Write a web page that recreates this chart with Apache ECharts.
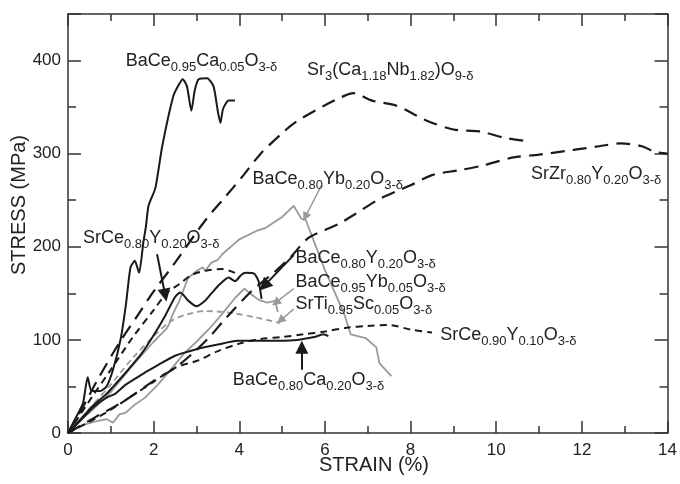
<!DOCTYPE html>
<html>
<head>
<meta charset="utf-8">
<script src="https://cdn.jsdelivr.net/npm/echarts@6/dist/echarts.min.js"></script>
<style>
  html, body { margin: 0; padding: 0; background: #fff; }
  #chart { width: 680px; height: 484px; }
</style>
</head>
<body>
<div id="chart"></div>
<script>
// strain (%) / stress (MPa) pairs
var baCe95Ca05 = [[0,0],[0.2,18],[0.35,32],[0.46,60],[0.55,45],[0.75,45],[0.9,50],[1.05,68],[1.23,101],[1.35,137],[1.46,178],[1.56,185],[1.66,172],[1.76,205],[1.82,222],[1.88,244],[2.04,263],[2.2,308],[2.46,362],[2.6,375],[2.68,380],[2.78,372],[2.88,346],[2.96,368],[3.05,380],[3.25,381],[3.4,372],[3.5,345],[3.56,333],[3.62,348],[3.75,357],[3.9,357]];
var sr3CaNb = [[0,0],[0.35,28],[0.7,58],[1.2,97],[1.65,128],[2.0,152],[2.5,183],[3.2,228],[3.7,255],[4.1,277],[4.5,300],[5.0,322],[5.35,335],[6.0,352],[6.4,361],[6.66,365],[7.1,357],[7.7,351],[8.35,336],[9.0,326],[9.6,324],[10.2,317],[10.8,313]];
var srZr80Y20 = [[0,0],[0.6,16],[1.3,34],[2.0,56],[2.5,70],[2.9,85],[3.3,103],[3.7,124],[4.3,153],[4.8,172],[5.2,189],[5.6,209],[6.0,218],[6.3,224],[6.7,235],[7.3,252],[8.0,266],[8.5,277],[9.1,282],[9.66,287],[10.4,296],[11.0,299],[11.8,304],[12.4,308],[12.9,311],[13.4,308],[13.7,302],[14,300]];
var srCe80Y20 = [[0,0],[0.58,40],[1.0,68],[1.5,102],[2.0,132],[2.3,150],[2.6,160],[2.9,170],[3.3,175],[3.6,176],[3.9,172]];
var baCe80Y20 = [[0,0],[0.3,15],[0.6,30],[0.9,42],[1.04,49],[1.35,65],[1.73,86],[2.04,108],[2.27,126],[2.5,146],[2.62,151],[2.72,147],[2.81,142],[3.0,136],[3.2,142],[3.35,150],[3.55,160],[3.75,167],[3.9,163],[4.05,170],[4.15,172],[4.35,171],[4.45,163],[4.52,144]];
var baCe80Yb20 = [[0,0],[0.3,14],[0.6,26],[1.0,44],[1.5,72],[2.0,98],[2.3,112],[2.35,116],[2.45,128],[2.6,142],[2.8,166],[3.0,174],[3.15,178],[3.2,174],[3.35,183],[3.5,186],[3.6,192],[4.0,208],[4.4,217],[4.6,220],[5.0,232],[5.27,244],[5.45,230],[5.55,229],[6.0,175],[6.45,128],[6.6,106],[6.95,102],[7.2,92],[7.27,75],[7.55,61]];
var baCe95Yb05 = [[0,0],[0.3,8],[0.6,12],[0.9,15],[1.05,11],[1.2,20],[1.35,22],[1.55,30],[1.8,38],[2.1,52],[2.4,68],[2.7,85],[3.0,98],[3.3,112],[3.6,128],[3.9,145],[4.12,155],[4.25,150],[4.45,143],[4.65,140],[4.84,142],[4.9,130]];
var srTi95Sc05 = [[0,0],[0.5,26],[1.0,52],[1.5,80],[2.0,104],[2.4,120],[2.75,127],[3.2,131],[3.8,129],[4.4,124],[4.95,118]];
var srCe90Y10 = [[0,0],[0.5,12],[1.0,25],[1.5,40],[2.0,55],[2.5,70],[3.04,78],[3.5,88],[4.0,96],[4.5,101],[5.0,103],[5.5,106],[6.0,109],[6.5,113],[7.0,115],[7.5,116],[8.0,111],[8.5,108]];
var baCe80Ca20 = [[0,0],[0.3,14],[0.6,28],[0.9,38],[1.1,42],[1.35,52],[1.8,65],[2.1,73],[2.5,83],[3.0,90],[3.5,95],[3.96,99],[4.6,99],[5.35,100],[5.75,103],[5.96,106],[6.08,104]];

// composition labels (rich text: {s|...} = subscript) and where they sit
var labelTexts = [
  'BaCe{s|0.95}Ca{s|0.05}O{s|3-δ}',
  'Sr{s|3}(Ca{s|1.18}Nb{s|1.82})O{s|9-δ}',
  'BaCe{s|0.80}Yb{s|0.20}O{s|3-δ}',
  'SrZr{s|0.80}Y{s|0.20}O{s|3-δ}',
  'SrCe{s|0.80}Y{s|0.20}O{s|3-δ}',
  'BaCe{s|0.80}Y{s|0.20}O{s|3-δ}',
  'BaCe{s|0.95}Yb{s|0.05}O{s|3-δ}',
  'SrTi{s|0.95}Sc{s|0.05}O{s|3-δ}',
  'SrCe{s|0.90}Y{s|0.10}O{s|3-δ}',
  'BaCe{s|0.80}Ca{s|0.20}O{s|3-δ}'
];
var labelAt = [[1.35,400],[5.58,390],[4.31,273],[10.81,278],[0.35,209],[5.31,188],[5.31,162],[5.31,139],[8.69,105],[3.85,57]];

// arrows: from -> to, in data units
var blackArrows = [[[2.08,192],[2.27,148]],[[5.27,191],[4.58,158]],[[5.46,68],[5.46,92]]];
var grayArrows = [[[5.92,266],[5.54,232]],[[5.27,155],[4.85,140]],[[5.27,133],[4.96,121]]];

var FONT = 'Liberation Sans, Arial, sans-serif';
var INK = '#1a1a1a';
var GRAY = '#9a9a9a';

function line(name, data, color, width, type, smooth) {
    return {
        name: name, type: 'line', data: data, showSymbol: false, symbol: 'none',
        smooth: smooth || false,
        lineStyle: { color: color, width: width, type: type || 'solid' },
        z: color === GRAY ? 2 : 3
    };
}

function xAx(pos, labels) {
    return {
        type: 'value', position: pos, min: 0, max: 14, interval: 2,
        axisLine: { onZero: false, lineStyle: { color: '#333', width: 1.5 } },
        axisTick: { inside: true, length: 12, lineStyle: { color: '#333', width: 1.5 } },
        minorTick: { show: true, splitNumber: 2, length: 7, lineStyle: { color: '#333', width: 1.5 } },
        axisLabel: labels ? { fontSize: 17, color: '#222', margin: 9, fontFamily: FONT } : { show: false },
        splitLine: { show: false }
    };
}
function yAx(pos, step, tick, showLine, labels) {
    return {
        type: 'value', position: pos, min: 0, max: 450, interval: step,
        axisLine: { show: showLine, onZero: false, lineStyle: { color: '#333', width: 1.5 } },
        axisTick: { inside: true, length: tick, lineStyle: { color: '#333', width: 1.5 } },
        axisLabel: labels ? {
            fontSize: 17, color: '#222', margin: 7, fontFamily: FONT, showMaxLabel: false,
            formatter: function (v) { return v % 100 === 0 ? v : ''; }
        } : { show: false },
        splitLine: { show: false }
    };
}

var chart = echarts.init(document.getElementById('chart'));

var option = {
    animation: false,
    backgroundColor: '#fff',
    textStyle: { fontFamily: FONT },
    grid: { left: 68, right: 5, top: 14, bottom: 51 },
    xAxis: [xAx('bottom', true), xAx('top', false)],
    yAxis: [yAx('left', 50, 8, true, true), yAx('left', 100, 13, false, false),
            yAx('right', 50, 8, true, false), yAx('right', 100, 13, false, false)],
    series: [
        line('BaCe0.95Ca0.05', baCe95Ca05, INK, 2, 'solid', 0.2),
        line('Sr3(Ca1.18Nb1.82)', sr3CaNb, INK, 2.2, [14, 8], 0.3),
        line('SrZr0.80Y0.20', srZr80Y20, INK, 2.2, [14, 8], 0.3),
        line('SrCe0.80Y0.20', srCe80Y20, INK, 2, [7, 5], 0.3),
        line('BaCe0.80Y0.20', baCe80Y20, INK, 2, 'solid', 0.2),
        line('BaCe0.80Yb0.20', baCe80Yb20, GRAY, 1.8),
        line('BaCe0.95Yb0.05', baCe95Yb05, GRAY, 1.8),
        line('SrTi0.95Sc0.05', srTi95Sc05, GRAY, 1.8, [6, 4], 0.3),
        line('SrCe0.90Y0.10', srCe90Y10, INK, 2, [7, 5], 0.3),
        line('BaCe0.80Ca0.20', baCe80Ca20, INK, 2, 'solid', 0.2),
        {
            type: 'lines', coordinateSystem: 'cartesian2d', z: 5,
            symbol: ['none', 'triangle'], symbolSize: 13,
            lineStyle: { color: INK, width: 2, opacity: 1 },
            data: blackArrows.map(function (a) { return { coords: a }; })
        },
        {
            type: 'lines', coordinateSystem: 'cartesian2d', z: 5,
            symbol: ['none', 'triangle'], symbolSize: 9,
            lineStyle: { color: GRAY, width: 1.5, opacity: 1 },
            data: grayArrows.map(function (a) { return { coords: a }; })
        }
    ]
};
chart.setOption(option);

// labels and axis titles
var graphics = [
    {
        type: 'text', x: 19, y: 205, rotation: Math.PI / 2,
        style: { text: 'STRESS (MPa)', fontSize: 20, fontFamily: FONT, fill: '#222', align: 'center', verticalAlign: 'middle' }
    },
    {
        type: 'text', x: 374, y: 465,
        style: { text: 'STRAIN (%)', fontSize: 20, fontFamily: FONT, fill: '#222', align: 'center', verticalAlign: 'middle' }
    }
];
labelTexts.forEach(function (t, i) {
    var p = chart.convertToPixel({ gridIndex: 0 }, labelAt[i]);
    graphics.push({
        type: 'text', x: p[0], y: p[1], z: 10,
        style: {
            text: t, fontSize: 18, fontFamily: FONT, fill: '#222', lineHeight: 26,
            align: 'left', verticalAlign: 'middle',
            rich: { s: { fontSize: 13, fontFamily: FONT, fill: '#222', lineHeight: 13, verticalAlign: 'bottom' } }
        }
    });
});
chart.setOption({ graphic: graphics });
</script>
</body>
</html>
